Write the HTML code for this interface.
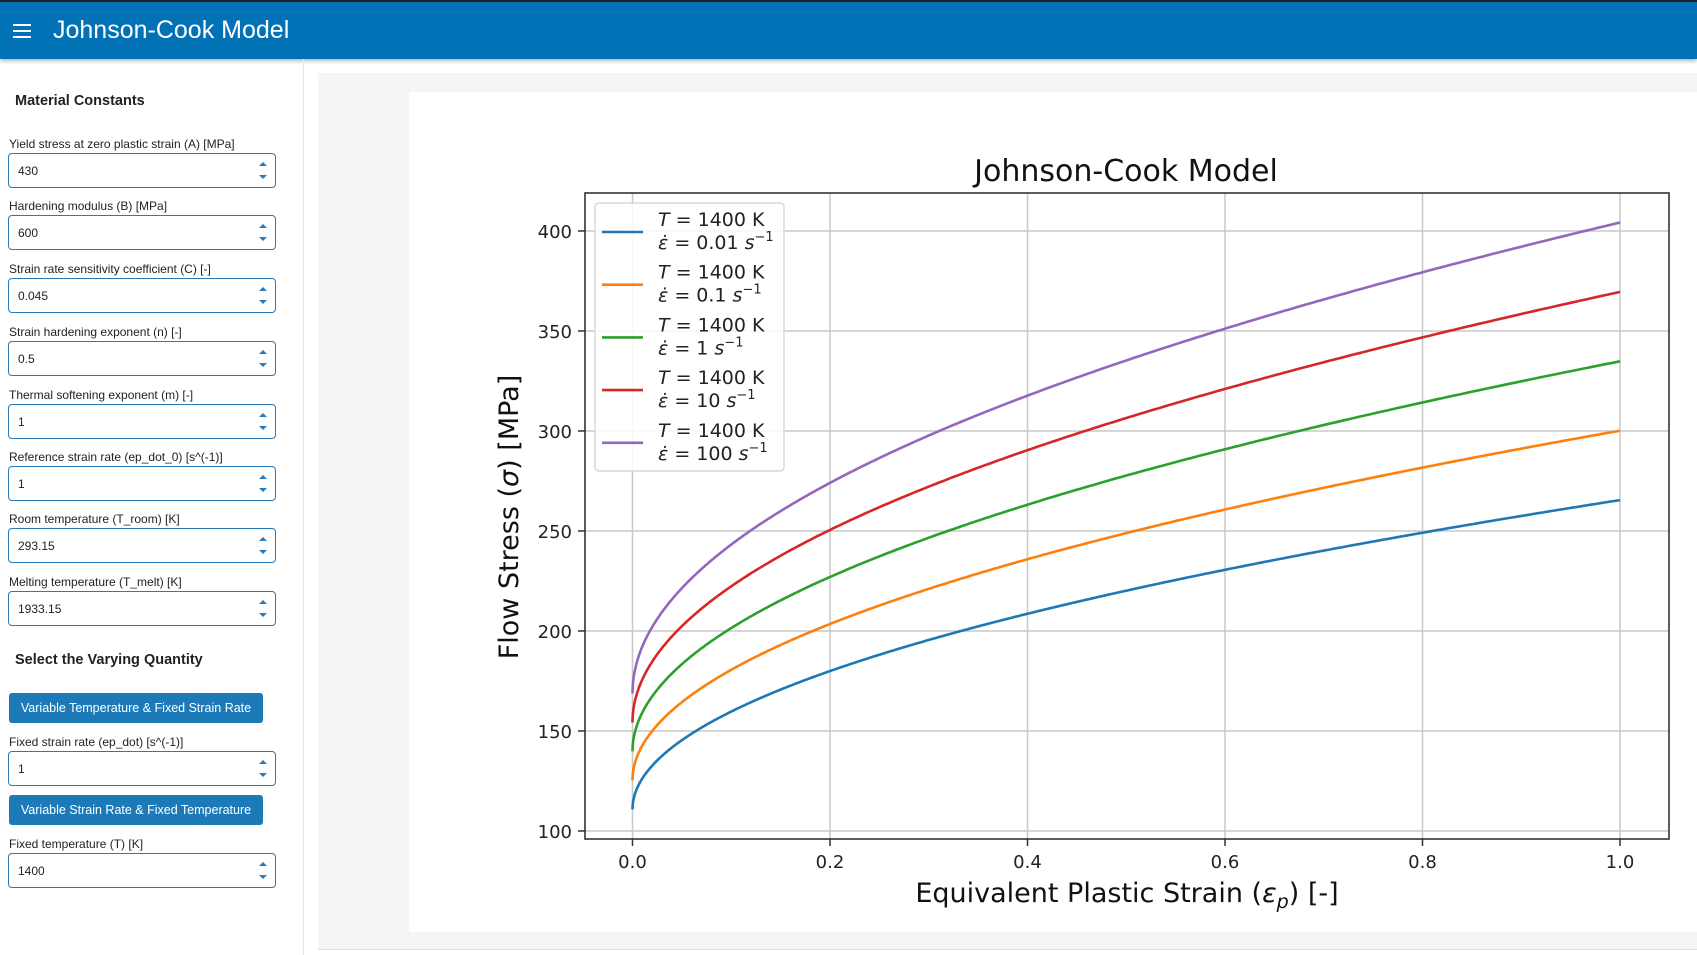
<!DOCTYPE html>
<html><head><meta charset="utf-8"><style>
*{box-sizing:border-box}
body{margin:0;width:1697px;height:955px;overflow:hidden;background:#fff;font-family:"Liberation Sans",sans-serif;position:relative}
.top{position:absolute;left:0;top:0;width:1697px;height:2px;background:#222}
.hdr{position:absolute;left:0;top:2px;width:1697px;height:57px;background:#0072b5;box-shadow:0 2px 4px rgba(0,0,0,.3)}
.hdr .t{position:absolute;left:53px;top:14px;color:#fff;font-size:25px}
.hb{position:absolute;left:13px;width:18px;height:2px;background:#fff}
.side{position:absolute;left:0;top:59px;width:304px;height:896px;border-right:1px solid #e6e6e6}
.h{position:absolute;left:15px;font-weight:bold;font-size:14.5px;color:#222}
.lab{position:absolute;left:9px;font-size:12px;color:#222}
.box{position:absolute;left:8px;width:268px;height:35px;border:1.5px solid #2a7ab8;border-radius:4px;font-size:12px;padding:10px 0 0 9px;color:#222}
.box:after{content:"";position:absolute;right:8px;top:8px;border:4px solid transparent;border-bottom:4px solid #2a7ab8;border-top:0}
.box:before{content:"";position:absolute;right:8px;bottom:8px;border:4px solid transparent;border-top:4px solid #2a7ab8;border-bottom:0}
.btn{position:absolute;left:9px;width:254px;height:30px;background:#1c7ab9;color:#fff;font-size:12.5px;text-align:center;line-height:30px;border-radius:3px}
.panel{position:absolute;left:318px;top:73px;width:1379px;height:877px;background:#f5f5f5;border-bottom:1px solid #ddd}
.fig{position:absolute;left:409px;top:92px;width:1288px;height:840px;background:#fff}
</style></head><body>
<div class="top"></div>
<div class="hdr"><div class="hb" style="top:22px"></div><div class="hb" style="top:28px"></div><div class="hb" style="top:34px"></div><div class="t">Johnson-Cook Model</div></div>
<div class="side">
<div class="h" style="top:34px">Material Constants</div>
</div>
<div id="fields"></div>
<div class="panel"></div>
<div class="fig"></div>
<svg id="ch" width="1697" height="955" style="position:absolute;left:0;top:0" font-family="DejaVu Sans, sans-serif"></svg>
<script>
var f=[["Yield stress at zero plastic strain (A) [MPa]","430",153],["Hardening modulus (B) [MPa]","600",215],["Strain rate sensitivity coefficient (C) [-]","0.045",278],["Strain hardening exponent (n) [-]","0.5",341],["Thermal softening exponent (m) [-]","1",404],["Reference strain rate (ep_dot_0) [s^(-1)]","1",466],["Room temperature (T_room) [K]","293.15",528],["Melting temperature (T_melt) [K]","1933.15",591],["Fixed strain rate (ep_dot) [s^(-1)]","1",751],["Fixed temperature (T) [K]","1400",853]];
var h="";f.forEach(function(a){h+='<div class="lab" style="top:'+(a[2]-16)+'px">'+a[0]+'</div><div class="box" style="top:'+a[2]+'px">'+a[1]+'</div>';});
h+='<div class="h" style="top:652px">Select the Varying Quantity</div>';
h+='<div class="btn" style="top:693px">Variable Temperature &amp; Fixed Strain Rate</div>';
h+='<div class="btn" style="top:795px">Variable Strain Rate &amp; Fixed Temperature</div>';
document.getElementById("fields").innerHTML=h;
var X=function(e){return 632.5+e*987.5},Y=function(s){return 231+(400-s)*2};
var s="";
[0,.2,.4,.6,.8,1].forEach(function(e){var x=X(e);s+='<line x1="'+x+'" y1="193" x2="'+x+'" y2="839" stroke="#c8c8c8" stroke-width="1.5"/><line x1="'+x+'" y1="839" x2="'+x+'" y2="846" stroke="#333" stroke-width="1.5"/><text x="'+x+'" y="868" font-size="18" text-anchor="middle" fill="#222">'+e.toFixed(1)+'</text>';});
[100,150,200,250,300,350,400].forEach(function(v){var y=Y(v);s+='<line x1="585" y1="'+y+'" x2="1669" y2="'+y+'" stroke="#c8c8c8" stroke-width="1.5"/><line x1="578" y1="'+y+'" x2="585" y2="'+y+'" stroke="#333" stroke-width="1.5"/><text x="572" y="'+(y+7)+'" font-size="18" text-anchor="end" fill="#222">'+v+'</text>';});
var cols=["#1f77b4","#ff7f0e","#2ca02c","#d62728","#9467bd"],rates=[.01,.1,1,10,100],Ts=(1400-293.15)/1640;
rates.forEach(function(r,i){var p="";for(var k=0;k<=400;k++){var e=Math.pow(k/400,2);var sg=(430+600*Math.sqrt(e))*(1+.045*Math.log(r))*(1-Ts);p+=(k?"L":"M")+X(e).toFixed(1)+","+Y(sg).toFixed(1);}s+='<path d="'+p+'" fill="none" stroke="'+cols[i]+'" stroke-width="2.6"/>';});
s+='<rect x="585" y="193" width="1084" height="646" fill="none" stroke="#333" stroke-width="1.6"/>';
s+='<rect x="595" y="203" width="189" height="268" rx="4" fill="#fff" fill-opacity="0.85" stroke="#d8d8d8" stroke-width="1.5"/>';
var lb=["0.01","0.1","1","10","100"];
lb.forEach(function(l,i){var y=232+i*52.7;s+='<line x1="602" y1="'+y+'" x2="643" y2="'+y+'" stroke="'+cols[i]+'" stroke-width="2.6"/><text x="658" y="'+(y-6)+'" font-size="19" fill="#222"><tspan font-style="italic">T</tspan> = 1400 K</text><text x="658" y="'+(y+17)+'" font-size="19" fill="#222"><tspan font-style="italic">ε̇</tspan> = '+l+' <tspan font-style="italic">s</tspan><tspan font-size="13" dy="-8">−1</tspan></text>';});
s+='<text x="1126" y="181" font-size="30" text-anchor="middle" fill="#111">Johnson-Cook Model</text>';
s+='<text x="1127" y="902" font-size="27" text-anchor="middle" fill="#111">Equivalent Plastic Strain (<tspan font-style="italic">ε</tspan><tspan font-style="italic" font-size="19" dy="6">p</tspan><tspan dy="-6">) [-]</tspan></text>';
s+='<text transform="translate(518,517) rotate(-90)" font-size="27" text-anchor="middle" fill="#111">Flow Stress (<tspan font-style="italic">σ</tspan>) [MPa]</text>';
document.getElementById("ch").innerHTML=s;
</script>
</body></html>
